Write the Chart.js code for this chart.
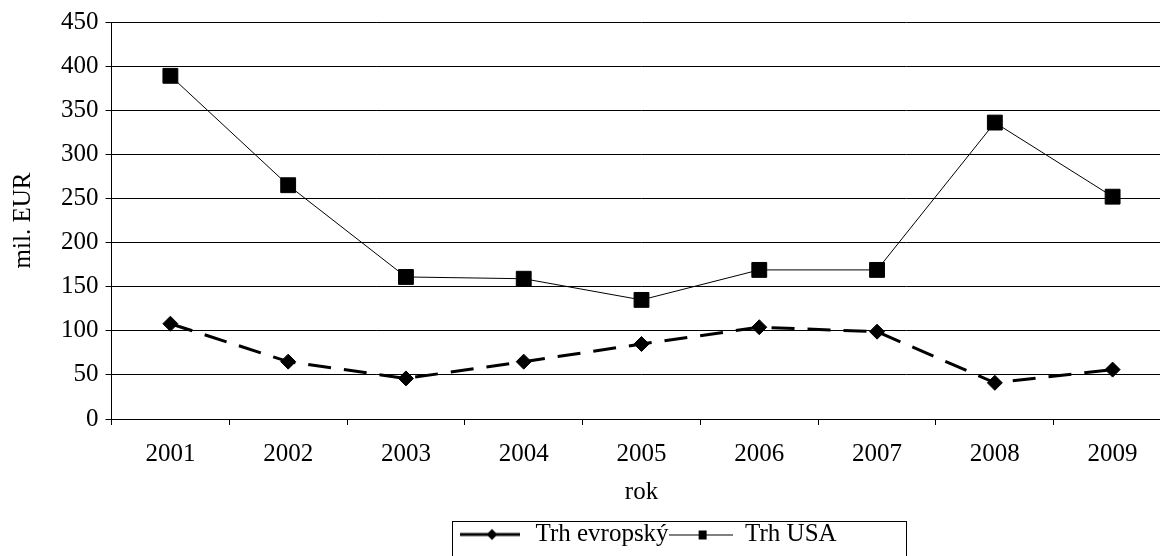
<!DOCTYPE html>
<html>
<head>
<meta charset="utf-8">
<script src="https://cdn.jsdelivr.net/npm/chart.js@4"></script>
<style>
  html, body { margin: 0; padding: 0; background: #fff; overflow: hidden; }
  #wrap { position: relative; width: 1183px; height: 556px; }
</style>
</head>
<body>
<div id="wrap"><canvas id="chart"></canvas></div>
<script>
  const years = ["2001", "2002", "2003", "2004", "2005", "2006", "2007", "2008", "2009"];
  const trhEvropsky = [108, 65, 46, 65, 85, 104, 99, 41, 56];
  const trhUSA = [389, 265, 161, 159, 135, 169, 169, 336, 252];
  const yMin = 0;
  const yMax = 450;
  const yStep = 50;

  const FONT = "'Liberation Serif', 'Times New Roman', serif";

  // little line + marker pictures for the legend
  function makeSample(kind) {
    const c = document.createElement("canvas");
    c.width = 64;
    c.height = 14;
    const g = c.getContext("2d");
    g.strokeStyle = "#000";
    g.fillStyle = "#000";
    if (kind === "eu") {
      g.lineWidth = 3;
      g.beginPath();
      g.moveTo(1, 7);
      g.lineTo(61, 7);
      g.stroke();
      g.beginPath();
      g.moveTo(33, 1.5);
      g.lineTo(38.5, 7);
      g.lineTo(33, 12.5);
      g.lineTo(27.5, 7);
      g.closePath();
      g.fill();
    } else {
      g.lineWidth = 1;
      g.beginPath();
      g.moveTo(0, 7.5);
      g.lineTo(64, 7.5);
      g.stroke();
      g.fillRect(30, 3, 8, 9);
    }
    return c;
  }

  const samples = [makeSample("eu"), makeSample("usa")];

  const legendFrame = {
    id: "legendFrame",
    afterLayout(chart) {
      chart.legend.left += 459;
    },
    afterDraw(chart) {
      const boxes = chart.legend.legendHitBoxes;
      if (!boxes || !boxes.length) return;
      const ctx = chart.ctx;
      ctx.save();
      ctx.strokeStyle = "#000";
      ctx.lineWidth = 1;
      ctx.strokeRect(Math.round(boxes[0].left) - 6.5, Math.round(boxes[0].top) - 0.5, 454, 80);
      ctx.restore();
    }
  };

  new Chart(document.getElementById("chart"), {
    type: "line",
    data: {
      labels: years,
      datasets: [
        {
          label: "Trh evropský",
          data: trhEvropsky,
          borderColor: "#000",
          borderWidth: 3,
          borderDash: [23, 13],
          pointStyle: "rectRot",
          pointRadius: 7.5,
          pointBackgroundColor: "#000",
          pointBorderColor: "#000",
          pointBorderWidth: 1,
          tension: 0
        },
        {
          label: "Trh USA",
          data: trhUSA,
          borderColor: "#000",
          borderWidth: 1,
          pointStyle: "rect",
          pointRadius: 10.5,
          pointBackgroundColor: "#000",
          pointBorderColor: "#000",
          pointBorderWidth: 1,
          tension: 0
        }
      ]
    },
    options: {
      responsive: true,
      maintainAspectRatio: false,
      animation: false,
      layout: {
        padding: { top: 1, left: 0, right: 0, bottom: -1 }
      },
      plugins: {
        tooltip: { enabled: false },
        legend: {
          position: "bottom",
          align: "start",
          labels: {
            color: "#000",
            font: { family: FONT, size: 25 },
            padding: 0,
            usePointStyle: true,
            pointStyleWidth: 64,
            generateLabels(chart) {
              const items = Chart.defaults.plugins.legend.labels.generateLabels(chart);
              items.forEach((item, i) => {
                item.pointStyle = samples[i];
              });
              return items;
            }
          }
        }
      },
      scales: {
        x: {
          offset: true,
          border: { display: true, color: "#000", width: 1 },
          grid: {
            offset: true,
            drawOnChartArea: false,
            drawTicks: true,
            tickLength: 6,
            color: "#000"
          },
          ticks: {
            color: "#000",
            padding: 14,
            maxRotation: 0,
            font: { family: FONT, size: 25 }
          },
          title: {
            display: true,
            text: "rok",
            color: "#000",
            font: { family: FONT, size: 25 },
            padding: { top: -6, bottom: 15 }
          }
        },
        y: {
          min: yMin,
          max: yMax,
          border: { display: true, color: "#000", width: 1 },
          grid: {
            color: "#000",
            lineWidth: 1,
            tickLength: 6,
            drawTicks: true
          },
          ticks: {
            stepSize: yStep,
            color: "#000",
            padding: 7,
            font: { family: FONT, size: 25 }
          },
          title: {
            display: true,
            text: "mil. EUR",
            color: "#000",
            font: { family: FONT, size: 25 },
            padding: { top: 8, bottom: 16 }
          }
        }
      }
    },
    plugins: [legendFrame]
  });
</script>
</body>
</html>
